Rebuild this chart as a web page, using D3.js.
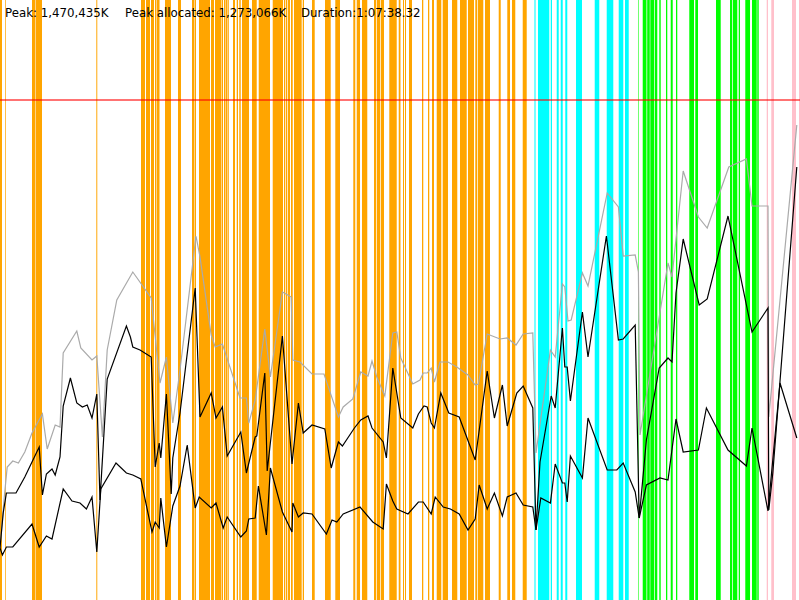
<!DOCTYPE html>
<html><head><meta charset="utf-8">
<script src="https://cdn.jsdelivr.net/npm/d3@7"></script>
<style>html,body{margin:0;padding:0;background:#fff;overflow:hidden}</style>
</head><body>
<svg id="c" width="800" height="600"></svg>
<script>
// time: % of run duration (0-100); memory: % of peak heap (red line = 100%)
const headerLabels = ["Peak: 1,470,435K", "Peak allocated: 1,273,066K", "Duration:1:07:38.32"];
const peakLevel = 100;

const totalHeap = [[0,10.4],[0.5,20],[0.9,26.6],[1.6,27.8],[2.3,27.4],[3.1,29.6],[4.0,33.4],[5.3,37.2],[5.9,30.2],[6.9,35],[7.5,34.6],[7.9,49.4],[9.6,53.8],[10.1,50.4],[11.5,48],[12.1,48.8],[12.8,32.6],[13.4,50],[14.6,60],[16.6,65.6],[18.9,60.4],[20.0,43.4],[20.8,48.6],[21.6,35.4],[22.5,46],[24.5,72.8],[25.0,68.6],[26.4,53],[26.9,50.6],[27.8,51.2],[30.0,40.4],[30.8,40.4],[31.1,35.4],[31.9,40],[33.1,54.2],[33.8,44.6],[35.3,61.6],[36.4,60.6],[36.6,48],[37.5,47.6],[39.0,45.2],[40.5,45.2],[42.3,36.6],[42.9,38.6],[44.1,40.2],[45.1,45.6],[46.0,44.8],[46.5,47.8],[47.1,44.6],[48.1,40.8],[49.1,53.4],[49.6,53.6],[50.1,48.4],[51.6,43.2],[52.5,44],[52.9,45.4],[53.4,45.4],[53.9,46.4],[54.3,43.6],[55.0,47.6],[56.0,47.6],[57.1,46.6],[58.5,45],[59.4,43],[59.8,43.2],[60.9,53.2],[62.5,52.2],[63.4,52.4],[64.5,51],[65.4,53.2],[66.6,53.4],[67.0,29.4],[68.8,50],[69.4,48.6],[70.3,63.2],[70.6,62.6],[71.0,55.8],[71.4,56],[72.8,65.4],[73.5,62.8],[75.9,81.4],[77.3,78.6],[77.9,68.8],[79.4,69],[79.8,65.6],[80.0,33],[83.5,67.4],[84.0,64.6],[85.4,85.8],[87.3,76.6],[88.4,74.4],[91.1,86.6],[93.3,88.2],[94.0,78.8],[96.0,78.8],[96.1,36.6],[99.6,95]];

const allocated = [[0,10.4],[0.4,17.4],[0.8,21.4],[2.0,21.4],[3.1,24.6],[4.0,27.6],[4.9,30.6],[5.3,21],[5.8,25.2],[6.5,26.2],[6.9,25],[7.5,28.6],[7.9,38.8],[8.8,44.4],[9.6,39.4],[10.3,38.6],[10.9,39],[11.5,36.4],[12.1,41.2],[12.5,20],[13.4,44.2],[15.8,54.8],[16.3,52.6],[16.6,50.6],[17.5,50],[18.9,48.6],[19.4,26.6],[19.9,31.4],[20.1,28.4],[20.8,41.2],[21.4,21.2],[21.6,28.4],[22.5,37.4],[24.4,62.4],[25.0,36.6],[26.4,41.4],[27.0,36.4],[27.8,38.6],[28.4,28.8],[30.1,33.6],[30.8,25.4],[31.9,32.6],[32.1,32.8],[33.1,45.4],[33.4,25.8],[35.3,52.8],[36.5,27.2],[37.3,39.4],[37.9,33.4],[39.0,35],[40.6,34.2],[41.4,26.4],[42.3,31.6],[42.8,30.8],[44.3,34.4],[45.1,36],[46.0,36.8],[46.5,34.4],[47.9,31.6],[48.3,28.4],[49.1,46.4],[50.1,36.4],[51.6,34.4],[52.3,37.2],[53.0,38.8],[53.4,38.6],[53.9,35.4],[54.3,34.4],[55.1,41.4],[56.1,37.4],[57.4,36.6],[59.4,28],[60.9,45.8],[61.8,36.4],[62.8,43],[63.4,34.8],[64.6,41.4],[65.4,42.8],[66.6,38.4],[67.0,14],[67.5,27.6],[68.9,40.8],[69.4,38.4],[70.3,54.4],[70.6,46.6],[70.9,46.6],[71.3,39.8],[72.8,57.6],[73.5,48.6],[75.8,72.8],[77.3,52],[77.9,52.2],[79.4,55],[79.9,16.4],[80.8,32],[82.4,46.4],[83.5,48.4],[84.0,47.6],[84.5,61.4],[85.4,72.2],[87.4,59],[88.4,60.2],[91.0,76.8],[94.0,53.6],[96.0,58.4],[96.1,18],[96.6,25.4],[99.6,86.6]];

const live = [[0,10.4],[0.3,9],[0.8,10.6],[1.6,10.6],[4.0,15.2],[4.9,10.6],[5.8,12.8],[6.5,12.2],[7.9,22.2],[9.0,19.8],[10.0,19.4],[10.8,18.2],[11.5,20.6],[12.1,9.6],[12.6,22.2],[14.5,27.4],[15.8,25.4],[16.6,25],[17.6,24.2],[19.0,13.6],[19.4,15.6],[19.9,14.4],[20.1,20.4],[20.8,10.6],[21.6,18.8],[22.5,22.8],[23.4,31],[24.4,18.4],[24.9,20.6],[26.4,18.4],[27.0,19.4],[27.9,14.4],[28.4,16.6],[30.1,12.6],[30.8,13.8],[31.1,16.2],[31.9,16.4],[32.3,22.8],[33.3,13],[33.8,26.4],[35.3,17.6],[36.5,13.6],[36.6,19.4],[37.3,16.6],[37.9,17.4],[39.0,17.2],[40.8,13.2],[41.5,16],[42.1,15.6],[42.9,17.2],[45.0,18.6],[46.6,15.6],[47.9,14.2],[48.3,23.2],[49.1,19.8],[49.6,18.2],[51.0,17.2],[52.3,19.6],[52.9,19.6],[53.9,17.2],[54.4,20.6],[55.4,18.6],[56.3,18.2],[57.4,17.2],[58.5,14],[59.4,16.2],[59.9,23],[60.9,18.2],[61.8,21.4],[62.8,16.8],[63.4,20.6],[64.5,21.4],[65.4,19],[66.6,18.6],[67.0,14],[67.6,20.4],[68.8,19.4],[69.4,27.2],[70.3,23.4],[70.6,23.4],[70.9,19.6],[71.3,28.8],[72.8,24.4],[73.5,36.4],[75.9,26],[77.1,26],[77.9,27.4],[79.4,21.6],[79.9,16.4],[80.8,23],[82.5,24.4],[83.5,24],[84.5,36.2],[85.4,29.6],[87.3,30],[88.3,38.4],[91.0,30],[93.3,26.8],[94.0,34.4],[96.0,17.8],[97.5,43.4],[99.6,32.4]];

// activity periods: [start, end] in % of duration
const phaseA = [[0,0.25],[0.66,0.75],[4,4.375],[4.44,5.25],[12.04,12.16],[17.625,18.125],[18.25,18.75],[18.875,19.25],[19.375,19.56],[19.625,19.94],[20.625,21.375],[22.25,22.625],[24,24.31],[24.375,24.5],[24.875,26.25],[26.375,26.75],[26.875,27.625],[27.69,27.875],[28,28.19],[28.25,28.44],[28.52,28.62],[29.125,29.375],[29.59,29.75],[29.91,30.09],[30.25,31.125],[31.5,32.09],[32.34,33.75],[34.09,35.375],[35.5,35.66],[35.75,35.91],[36,36.25],[36.375,36.59],[36.75,37.71],[37.84,38],[39,39.34],[40.625,41.34],[41.91,42.5],[44.16,44.41],[44.59,45],[45.25,45.91],[46.75,47],[47.09,47.5],[47.59,48],[48.66,49.59],[49.84,50.06],[50.375,50.5],[50.625,50.75],[51.125,51.5],[52.75,52.91],[53.5,53.66],[54,54.25],[54.59,55.16],[55.34,56],[56.5,57.16],[57.5,58.34],[58.5,59.25],[59.41,59.66],[59.75,60.41],[60.625,61.25],[62.34,62.59],[63.41,63.75],[64,64.41],[65.34,65.84]];
const phaseB = [[66.81,66.94],[67.25,68.66],[68.84,69],[69.59,69.84],[70.09,70.34],[70.66,70.91],[72,72.75],[74.34,74.91],[75.84,76.66],[77.34,77.91],[78.125,78.59]];
const phaseC = [[79.78,79.85],[80.34,80.81],[80.9,81.22],[81.29,81.75],[81.84,82.16],[82.41,82.59],[83.25,83.41],[83.84,84.09],[84.5,84.66],[86.16,86.75],[86.91,87.25],[89.5,90.09],[91.25,91.5],[91.59,92.16],[92.34,92.5],[93.16,93.75],[94,94.59],[94.66,94.84]];
const phaseD = [[95.84,96],[96.41,96.75],[99,99.5],[99.875,100]];

const W = 800, H = 600;
const svg = d3.select("#c");
const x = d3.scaleLinear().domain([0, 100]).range([0, W]);
const y = d3.scaleLinear().domain([0, 120]).range([H, 0]);

const phases = [
  {data: phaseA, color: "#FFA500"},
  {data: phaseB, color: "#00FFFF"},
  {data: phaseC, color: "#00FF00"},
  {data: phaseD, color: "#FFC0CB"}
];
phases.forEach(p => {
  svg.append("g").selectAll("rect").data(p.data).join("rect")
    .attr("x", d => x(d[0]))
    .attr("width", d => x(d[1]) - x(d[0]))
    .attr("y", 0).attr("height", H)
    .attr("fill", p.color);
});

svg.append("line")
  .attr("x1", 0).attr("x2", W)
  .attr("y1", y(peakLevel)).attr("y2", y(peakLevel))
  .attr("stroke", "#ff0000").attr("stroke-opacity", 0.55).attr("stroke-width", 2);

const line = d3.line().x(d => x(d[0])).y(d => y(d[1]));
svg.append("path").datum(totalHeap).attr("d", line)
  .attr("fill", "none").attr("stroke", "#aaaaaa").attr("stroke-width", 1.2);
svg.append("path").datum(allocated).attr("d", line)
  .attr("fill", "none").attr("stroke", "#000").attr("stroke-width", 1.2);
svg.append("path").datum(live).attr("d", line)
  .attr("fill", "none").attr("stroke", "#000").attr("stroke-width", 1.2);

const labelX = [5, 125, 301];
svg.selectAll("text.hdr").data(headerLabels).join("text")
  .attr("class", "hdr")
  .attr("x", (d, i) => labelX[i]).attr("y", 17)
  .attr("font-family", "DejaVu Sans").attr("font-size", 11.8)
  .attr("fill", "#000")
  .text(d => d);
</script>
</body></html>
